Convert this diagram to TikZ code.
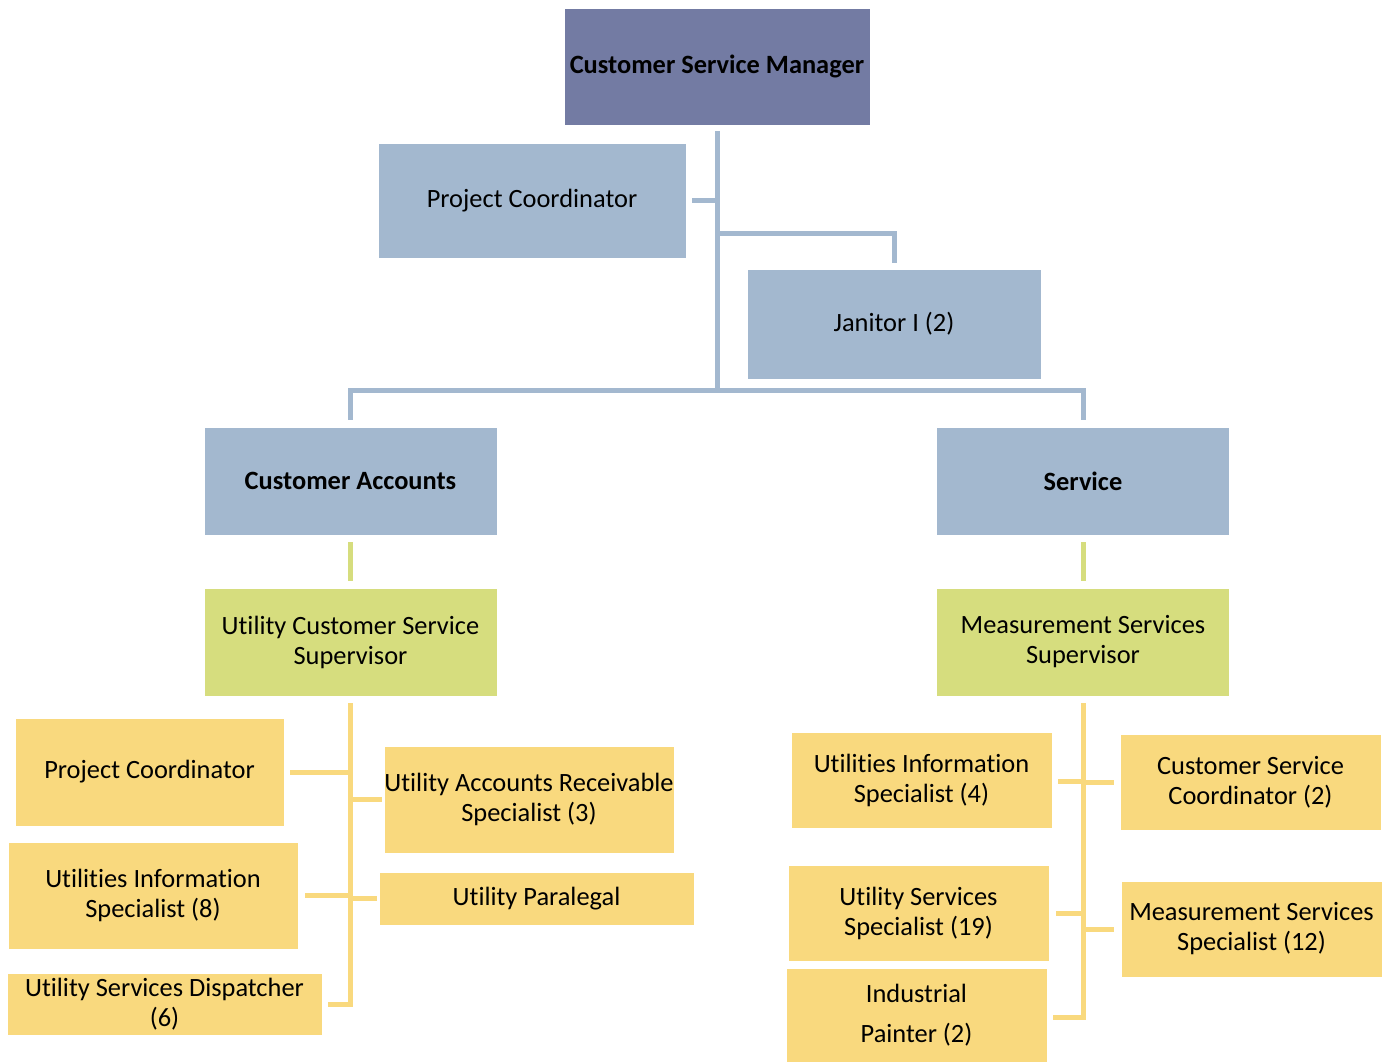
\documentclass[tikz,border=0pt]{standalone}
\usepackage{fontspec}
\setmainfont{Carlito}[Ligatures=NoCommon]
\usetikzlibrary{calc}
\definecolor{mgr}{HTML}{737BA3}
\definecolor{blu}{HTML}{A3B8CF}
\definecolor{grn}{HTML}{D6DD7E}
\definecolor{ylw}{HTML}{F9D97E}
\begin{document}
\begin{tikzpicture}[x=0.75pt,y=-0.75pt,
  box/.style={draw=white,line width=0.6pt,inner sep=0pt,align=center,text=black,
    font=\fontsize{19.8}{22.5}\selectfont},
  bline/.style={draw=blu,line width=3.75pt},
  gline/.style={draw=grn,line width=3.75pt},
  yline/.style={draw=ylw,line width=3.75pt}]
\useasboundingbox (0,0) rectangle (1393,1062);
% top level
\node[box,fill=mgr,minimum width=229.5pt,minimum height=87.75pt,font=\fontsize{19.8}{22.5}\selectfont\bfseries] (csm) at (717,66.5) {Customer Service Manager};
\node[box,fill=blu,minimum width=231pt,minimum height=86.25pt] (pct) at (532,200.5) {Project Coordinator};
\node[box,fill=blu,minimum width=220.5pt,minimum height=82.5pt] (jan) at (894,324) {Janitor I (2)};
\node[box,fill=blu,minimum width=219.75pt,minimum height=81pt,font=\fontsize{19.8}{22.5}\selectfont\bfseries] (ca) at (350.5,481) {Customer Accounts};
\node[box,fill=blu,minimum width=219.75pt,minimum height=81pt,font=\fontsize{19.8}{22.5}\selectfont\bfseries] (srv) at (1083,481) {Service};
\node[box,fill=grn,minimum width=219.75pt,minimum height=81pt] (ucss) at (350.5,642) {Utility Customer Service\\Supervisor};
\node[box,fill=grn,minimum width=219.75pt,minimum height=81pt] (mss) at (1083,642) {Measurement Services\\Supervisor};
% left group
\node[box,fill=ylw,minimum width=201.75pt,minimum height=81pt] (pcl) at (149.5,772) {Project Coordinator};
\node[box,fill=ylw,minimum width=217.5pt,minimum height=80.25pt] (uis8) at (153,895.5) {Utilities Information\\Specialist (8)};
\node[box,fill=ylw,minimum width=236.25pt,minimum height=46.5pt] (usd) at (164.5,1004) {Utility Services Dispatcher\\(6)};
\node[box,fill=ylw,minimum width=217.5pt,minimum height=80.25pt] (uars) at (529,799.5) {Utility Accounts Receivable\\Specialist (3)};
\node[box,fill=ylw,minimum width=236.25pt,minimum height=39.75pt] (para) at (536.5,898.5) {Utility Paralegal};
% right group
\node[box,fill=ylw,minimum width=195.75pt,minimum height=72pt] (uis4) at (921.5,780) {Utilities Information\\Specialist (4)};
\node[box,fill=ylw,minimum width=195.75pt,minimum height=72pt] (csc) at (1250.5,782) {Customer Service\\Coordinator (2)};
\node[box,fill=ylw,minimum width=195.75pt,minimum height=72pt] (uss) at (918.5,913) {Utility Services\\Specialist (19)};
\node[box,fill=ylw,minimum width=195.75pt,minimum height=72pt] (mssp) at (1251.5,929) {Measurement Services\\Specialist (12)};
\node[box,fill=ylw,minimum width=195.75pt,minimum height=70.5pt] (ip) at (916.5,1015) {Industrial\\[7.5pt]Painter (2)};
% connectors top
\coordinate (trunkb) at ($(csm.south)+(0,265)$);
\draw[bline] ($(csm.south)+(0,6)$) -- (trunkb);
\draw[bline] ($(pct.east)+(6,0)$) -- ($(pct.east)+(33,0)$);
\draw[bline] ($(csm.south)+(0,108)$) -| ($(jan.north)+(0,-6)$);
\draw[bline] ($(ca.north)+(0,-7)$) |- (trunkb) -| ($(srv.north)+(0,-7)$);
\draw[gline] ($(ca.south)+(0,7)$) -- ($(ucss.north)+(0,-7)$);
\draw[gline] ($(srv.south)+(0,7)$) -- ($(mss.north)+(0,-7)$);
% left group connectors
\draw[yline] ($(ucss.south)+(0,7)$) |- ($(usd.east)+(6,0)$);
\draw[yline] ($(pcl.east)+(6,0)$) -- ($(ucss.south|-pcl.east)+(2,0)$);
\draw[yline] ($(uis8.east)+(7,0)$) -- ($(ucss.south|-uis8.east)+(2,0)$);
\draw[yline] ($(ucss.south|-uars.west)+(-2,0)$) -- ($(uars.west)+(-2,0)$);
\draw[yline] ($(ucss.south|-para.west)+(-2,0)$) -- ($(para.west)+(-2,0)$);
% right group connectors
\draw[yline] ($(mss.south)+(0,7)$) |- ($(ip.east)+(6,2)$);
\draw[yline] ($(uis4.east)+(6,1)$) -- ($(mss.south|-uis4.east)+(2,1)$);
\draw[yline] ($(mss.south|-csc.west)+(-2,0)$) -- ($(csc.west)+(-6,0)$);
\draw[yline] ($(uss.east)+(7,0)$) -- ($(mss.south|-uss.east)+(2,0)$);
\draw[yline] ($(mss.south|-mssp.west)+(-2,0)$) -- ($(mssp.west)+(-7,0)$);
\end{tikzpicture}
\end{document}
